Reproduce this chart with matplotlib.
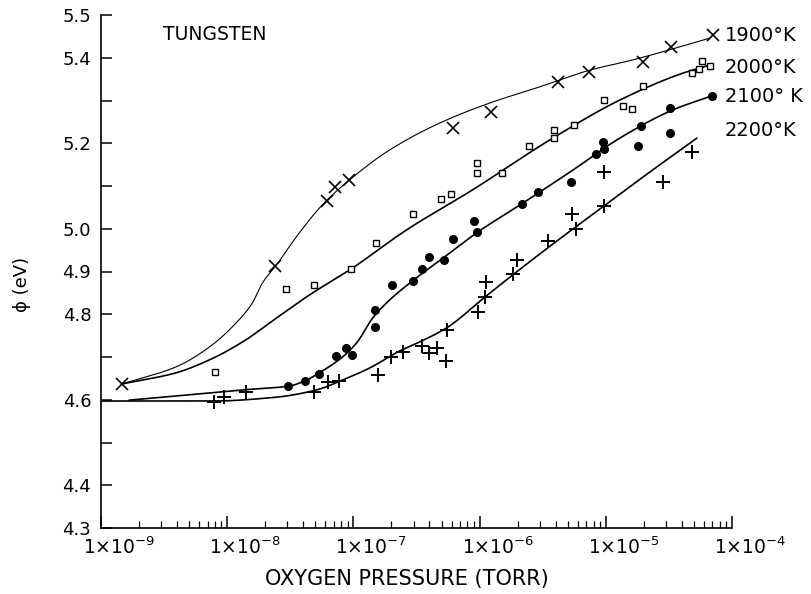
import numpy as np
import matplotlib
matplotlib.use("Agg")
import matplotlib.pyplot as plt
from matplotlib.ticker import LogLocator, NullFormatter, FixedLocator
from matplotlib.transforms import ScaledTranslation

# ---- measured work function of tungsten vs. oxygen pressure ----
# 1900 K  (x markers)
p1900 = [1.47e-9, 2.4e-8, 6.2e-8, 7.1e-8, 9.3e-8, 6.1e-7, 1.24e-6, 4.2e-6,
         7.3e-6, 1.97e-5, 3.3e-5, 7.1e-5]
phi1900 = [4.637, 4.913, 5.065, 5.098, 5.114, 5.236, 5.273, 5.343,
           5.367, 5.390, 5.425, 5.453]

# 2000 K  (open squares)
p2000 = [8.0e-9, 2.94e-8, 4.9e-8, 9.6e-8, 1.52e-7, 2.94e-7, 4.9e-7, 5.9e-7,
         9.6e-7, 9.6e-7, 1.5e-6, 2.45e-6, 3.87e-6, 3.87e-6, 5.6e-6, 9.6e-6,
         1.36e-5, 1.61e-5, 1.97e-5, 4.8e-5, 5.5e-5, 5.8e-5, 6.7e-5]
phi2000 = [4.665, 4.859, 4.868, 4.906, 4.967, 5.034, 5.070, 5.081,
           5.154, 5.130, 5.130, 5.194, 5.231, 5.212, 5.243, 5.301,
           5.287, 5.280, 5.334, 5.364, 5.374, 5.392, 5.381]

# 2100 K  (filled circles)
p2100 = [3.05e-8, 4.1e-8, 5.3e-8, 7.3e-8, 8.8e-8, 9.8e-8, 1.47e-7, 1.47e-7,
         2.04e-7, 2.94e-7, 3.47e-7, 3.94e-7, 5.2e-7, 6.2e-7, 9.1e-7, 9.6e-7,
         2.15e-6, 2.88e-6, 5.3e-6, 8.3e-6, 9.5e-6, 9.6e-6, 1.8e-5, 1.9e-5,
         3.2e-5, 3.2e-5, 6.9e-5]
phi2100 = [4.632, 4.644, 4.660, 4.702, 4.721, 4.705, 4.810, 4.770,
           4.868, 4.878, 4.906, 4.934, 4.927, 4.976, 5.018, 4.992,
           5.058, 5.086, 5.109, 5.175, 5.203, 5.187, 5.194, 5.240,
           5.282, 5.224, 5.311]

# 2200 K  (plus markers)
p2200 = [7.9e-9, 9.5e-9, 1.42e-8, 4.9e-8, 6.3e-8, 7.7e-8, 1.58e-7, 1.97e-7,
         2.45e-7, 3.47e-7, 4.0e-7, 4.6e-7, 5.4e-7, 5.5e-7, 9.8e-7, 1.1e-6,
         1.12e-6, 1.83e-6, 1.97e-6, 3.5e-6, 5.4e-6, 5.8e-6, 9.6e-6, 9.6e-6,
         2.83e-5, 4.8e-5]
phi2200 = [4.595, 4.606, 4.618, 4.618, 4.642, 4.644, 4.658, 4.700,
           4.712, 4.726, 4.709, 4.721, 4.691, 4.763, 4.805, 4.840,
           4.875, 4.894, 4.927, 4.971, 5.034, 4.999, 5.053, 5.133,
           5.109, 5.180]

# ---- hand-faired curves through each set ----
c1900_p = [1.47e-9, 3.94e-9, 7.2e-9, 1.18e-8, 1.58e-8, 1.9e-8, 2.45e-8,
           3.53e-8, 5.68e-8, 9.3e-8, 1.93e-7, 4.81e-7, 1.2e-6, 3.0e-6,
           7.46e-6, 1.64e-5, 6.69e-5]
c1900_phi = [4.637, 4.677, 4.723, 4.780, 4.826, 4.873, 4.915, 4.981,
             5.056, 5.114, 5.184, 5.247, 5.294, 5.332, 5.371, 5.395, 5.446]

c2000_p = [1.47e-9, 3.94e-9, 7.2e-9, 1.32e-8, 2.45e-8, 4.48e-8, 9.6e-8,
           2.63e-7, 8.8e-7, 3.8e-6, 1.29e-5, 4.08e-5, 6.69e-5]
c2000_phi = [4.637, 4.663, 4.693, 4.735, 4.791, 4.845, 4.906, 4.997,
             5.091, 5.212, 5.301, 5.364, 5.383]

c2100_p = [1.67e-9, 1.32e-8, 3.1e-8, 4.24e-8, 5.37e-8, 8.2e-8, 1.06e-7,
           1.42e-7, 1.93e-7, 2.94e-7, 5.27e-7, 9.64e-7, 2.15e-6, 5.47e-6,
           1.29e-5, 3.4e-5, 6.94e-5]
c2100_phi = [4.599, 4.623, 4.632, 4.646, 4.663, 4.700, 4.733, 4.791,
             4.833, 4.878, 4.934, 4.992, 5.058, 5.137, 5.212, 5.278, 5.311]

c2200_p = [1.0e-9, 1.67e-9, 7.6e-9, 2.45e-8, 5.1e-8, 8.2e-8, 1.34e-7,
           2.32e-7, 3.34e-7, 5.47e-7, 1.1e-6, 1.83e-6, 3.53e-6, 9.64e-6,
           2.24e-5, 5.27e-5]
c2200_phi = [4.597, 4.597, 4.597, 4.606, 4.623, 4.646, 4.674, 4.714,
             4.735, 4.768, 4.840, 4.892, 4.957, 5.053, 5.133, 5.212]

temp_labels = ["1900°K", "2000°K", "2100° K", "2200°K"]
temp_label_phi = [5.453, 5.377, 5.309, 5.230]

y_ticks = [4.3, 4.4, 4.5, 4.6, 4.7, 4.8, 4.9, 5.0, 5.1, 5.2, 5.3, 5.4, 5.5]
y_ticklabels = ["4.3", "4.4", "", "4.6", "", "4.8", "4.9", "5.0", "", "5.2",
                "", "5.4", "5.5"]
x_decades = [1e-9, 1e-8, 1e-7, 1e-6, 1e-5, 1e-4]
x_ticklabels = [r"$\mathregular{1{\times}10^{-9}}$", r"$\mathregular{1{\times}10^{-8}}$",
                r"$\mathregular{1{\times}10^{-7}}$", r"$\mathregular{1{\times}10^{-6}}$",
                r"$\mathregular{1{\times}10^{-5}}$", r"$\mathregular{1{\times}10^{-4}}$"]


def pchip_curve(px, py, n=400):
    """Monotone cubic (Fritsch-Carlson) curve through the points, in log10(x)."""
    x = np.log10(np.asarray(px, float))
    y = np.asarray(py, float)
    h = np.diff(x)
    d = np.diff(y) / h
    m = np.zeros_like(y)
    m[0], m[-1] = d[0], d[-1]
    for k in range(1, len(y) - 1):
        if d[k - 1] * d[k] <= 0:
            m[k] = 0.0
        else:
            w1 = 2 * h[k] + h[k - 1]
            w2 = h[k] + 2 * h[k - 1]
            m[k] = (w1 + w2) / (w1 / d[k - 1] + w2 / d[k])
    xs = np.linspace(x[0], x[-1], n)
    idx = np.clip(np.searchsorted(x, xs) - 1, 0, len(x) - 2)
    t = (xs - x[idx]) / h[idx]
    h00 = 2 * t**3 - 3 * t**2 + 1
    h10 = t**3 - 2 * t**2 + t
    h01 = -2 * t**3 + 3 * t**2
    h11 = t**3 - t**2
    ys = (h00 * y[idx] + h10 * h[idx] * m[idx]
          + h01 * y[idx + 1] + h11 * h[idx] * m[idx + 1])
    return 10 ** xs, ys


plt.rcParams["font.family"] = ["DejaVu Sans"]
plt.rcParams["mathtext.fontset"] = "dejavusans"

fig = plt.figure(figsize=(8.12, 5.94), dpi=100)
W, H = 812, 594
ax = fig.add_axes([101 / W, (H - 528) / H, 631 / W, 513 / H])

ax.set_xscale("log")
ax.set_xlim(1e-9, 1e-4)
ax.set_ylim(4.3, 5.5)

ink = "black"
# curves
for cp, cphi, lw in [(c1900_p, c1900_phi, 0.8), (c2000_p, c2000_phi, 1.2),
                     (c2100_p, c2100_phi, 1.2), (c2200_p, c2200_phi, 1.2)]:
    sx, sy = pchip_curve(cp, cphi)
    ax.plot(sx, sy, color=ink, lw=lw, solid_capstyle="round", zorder=2)

# data points
ax.plot(p1900, phi1900, ls="none", marker="x", ms=9, mew=1.2, color=ink, zorder=3)
ax.plot(p2000, phi2000, ls="none", marker="s", ms=4.8, mew=1.0, mfc="white",
        mec=ink, zorder=3)
ax.plot(p2100, phi2100, ls="none", marker="o", ms=5.5, color=ink, zorder=3)
ax.plot(p2200, phi2200, ls="none", marker="+", ms=9.5, mew=1.4, color=ink, zorder=3)

# temperature labels beside the curve ends
for lab, v in zip(temp_labels, temp_label_phi):
    ax.annotate(lab, xy=(1e-4, v), xycoords="data", xytext=(-7, 0),
                textcoords="offset pixels", ha="left", va="center",
                fontsize=14, color=ink, annotation_clip=False)

# spines and ticks
for s in ("top", "right"):
    ax.spines[s].set_visible(False)
for s in ("left", "bottom"):
    ax.spines[s].set_linewidth(1.2)
    ax.spines[s].set_color(ink)

ax.yaxis.set_major_locator(FixedLocator(y_ticks))
ax.set_yticklabels(y_ticklabels)
ax.tick_params(axis="y", direction="in", length=8, width=1.1, pad=7,
               labelsize=13, colors=ink)

ax.xaxis.set_major_locator(FixedLocator(x_decades))
ax.xaxis.set_minor_locator(LogLocator(base=10, subs=np.arange(2, 10), numticks=20))
ax.xaxis.set_major_formatter(NullFormatter())
ax.xaxis.set_minor_formatter(NullFormatter())
ax.tick_params(axis="x", which="major", direction="in", length=9, width=1.1)
ax.tick_params(axis="x", which="minor", direction="in", length=5, width=0.9)

off = ScaledTranslation(0.18, -0.09, fig.dpi_scale_trans)
for v, lab in zip(x_decades, x_ticklabels):
    ax.text(v, 0, lab, transform=ax.get_xaxis_transform() + off,
            ha="center", va="top", fontsize=13.5, color=ink)

fig.text(407 / W, 1 - 579 / H, "OXYGEN PRESSURE (TORR)", ha="center",
         va="center", fontsize=15, color=ink)
fig.text(22 / W, 1 - 284 / H, "ϕ (eV)", rotation=90, ha="center",
         va="center", fontsize=13, color=ink)
fig.text(163 / W, 1 - 35 / H, "TUNGSTEN", ha="left", va="center",
         fontsize=13.5, color=ink)

fig.savefig("out.png", dpi=100)
